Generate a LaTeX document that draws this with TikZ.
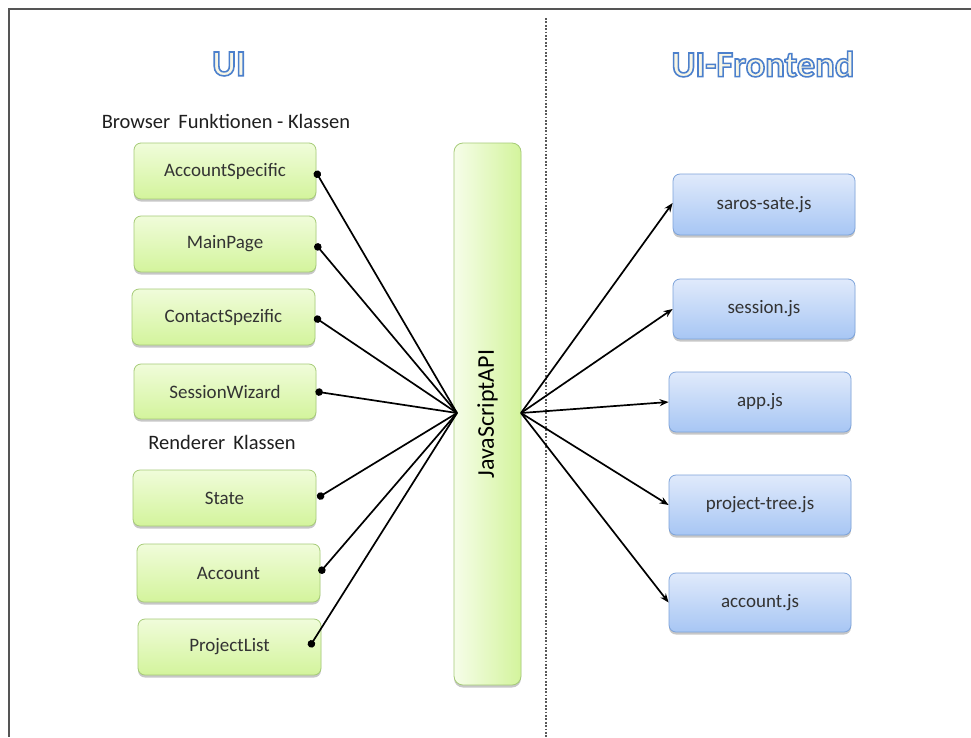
\documentclass[tikz,border=0pt]{standalone}
\usepackage{fontspec}
\setmainfont{Carlito}
\usetikzlibrary{shadows,arrows.meta,calc}
\definecolor{gtop}{HTML}{F0FCDA}
\definecolor{gbot}{HTML}{D3F49C}
\definecolor{gline}{HTML}{A6CB78}
\definecolor{btop}{HTML}{E0EAFB}
\definecolor{bbot}{HTML}{A7C6F4}
\definecolor{bline}{HTML}{7DA3DA}
\definecolor{txt}{HTML}{333333}
\definecolor{cream}{HTML}{F8F6E6}
\definecolor{framec}{HTML}{555555}
\newcommand{\outlinetext}[1]{{\color{cream}\special{pdf:literal direct 2 Tr 1.6 w 0.30 0.50 0.80 RG}#1\special{pdf:literal direct 0 Tr 0.4 w}}}
\tikzset{
  boxshadow/.style={drop shadow={shadow xshift=0pt, shadow yshift=-2.5pt, opacity=0.22, fill=black}},
  gbox/.style={draw=gline, line width=0.8pt, rounded corners=7pt, top color=gtop, bottom color=gbot,
    text=txt, font=\fontsize{19}{22}\selectfont, boxshadow, inner sep=0pt},
  bbox/.style={draw=bline, line width=0.8pt, rounded corners=7pt, top color=btop, bottom color=bbot,
    text=txt, font=\fontsize{19}{22}\selectfont, boxshadow, inner sep=0pt, minimum width=182pt},
  apibox/.style={draw=gline, line width=0.8pt, rounded corners=9pt, left color=gtop!60!white, right color=gbot,
    boxshadow, inner sep=0pt},
  conn/.style={line width=1.7pt, black},
  dotconn/.style={conn, {Circle[length=7.5pt]}-},
  arrconn/.style={conn, -{Stealth[length=9pt,width=7pt]}},
  heading/.style={text=black!88, font=\fontsize{20.5}{24}\selectfont},
  title/.style={font=\bfseries\fontsize{36.5}{42}\selectfont},
}
\begin{document}
\begin{tikzpicture}[x=1pt,y=-1pt]
\useasboundingbox (0,0) rectangle (971,737);
\fill[white] (0,0) rectangle (971,737);
% frame
\draw[line width=2pt, framec] (971,8.5) -- (8.5,8.5) -- (8.5,737);
% divider
\draw[line width=2.2pt, dash pattern=on 1.8pt off 1.6pt, black!65] (546,18) -- (546,737);

% headings
\node[heading] (h1) at (226,121) {Browser\, Funktionen - Klassen};
\node[heading] (h2) at (222,442) {Renderer\, Klassen};

% green boxes
\node[gbox, minimum width=182pt, minimum height=56pt] (acc)   at (225,171)   {AccountSpecific};
\node[gbox, minimum width=182pt, minimum height=56pt] (main)  at (225,244)   {MainPage};
\node[gbox, minimum width=183pt, minimum height=56pt] (cont)  at (223.5,317) {ContactSpezific};
\node[gbox, minimum width=182pt, minimum height=55pt] (sess)  at (225,391.5) {SessionWizard};
\node[gbox, minimum width=183pt, minimum height=56pt] (state) at (224.5,498) {State};
\node[gbox, minimum width=183pt, minimum height=58pt] (accnt) at (228.5,573) {Account};
\node[gbox, minimum width=183pt, minimum height=56pt] (plist) at (229.5,647) {ProjectList};

% API bar
\node[apibox, minimum width=67pt, minimum height=542pt] (js) at (487.5,414) {};
\node[rotate=90, text=black, font=\fontsize{24}{26}\selectfont] (jst) at (js.center) {JavaScriptAPI};

% blue boxes
\node[bbox, minimum height=61pt] (saros) at (764,204.5) {saros-sate.js};
\node[bbox, minimum height=60pt] (sessj) at (764,309)   {session.js};
\node[bbox, minimum height=60pt] (app)   at (760,402)   {app.js};
\node[bbox, minimum height=60pt] (ptree) at (760,505)   {project-tree.js};
\node[bbox, minimum height=59pt] (accjs) at (760,602.5) {account.js};

\coordinate (jl) at (457,413);
\coordinate (jr) at (521,413);

% left connectors
\draw[dotconn] ([xshift=-1pt]acc.east)   -- (jl);
\draw[dotconn] ([xshift=-1pt]main.east)  -- (jl);
\draw[dotconn] ([xshift=-1pt]cont.east)  -- (jl);
\draw[dotconn] ([xshift=-1pt]sess.east)  -- (jl);
\draw[dotconn] ([xshift=1pt]state.east)  -- (jl);
\draw[dotconn] ([xshift=-1pt]accnt.east) -- (jl);
\draw[dotconn] ([xshift=-12pt]plist.east) -- (jl);

% right connectors
\draw[arrconn] (jr) -- ([yshift=1.5pt]saros.west);
\draw[arrconn] (jr) -- (sessj.west);
\draw[arrconn] (jr) -- (app.west);
\draw[arrconn] (jr) -- (ptree.west);
\draw[arrconn] (jr) -- (accjs.west);

% titles
\node[title] (t1) at (229,64) {\outlinetext{UI}};
\node[title] (t2) at (763,64) {\outlinetext{UI-Frontend}};
\end{tikzpicture}
\end{document}
